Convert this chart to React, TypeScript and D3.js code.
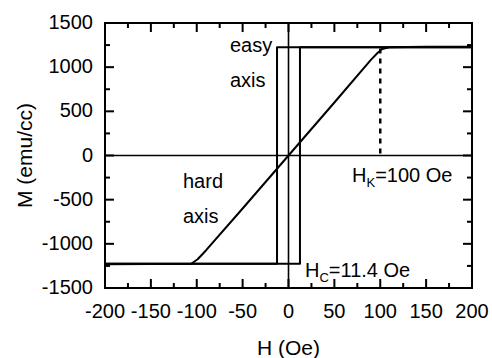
import React from "react";
import * as d3 from "d3";

// hard axis branch (H in Oe, M in emu/cc)
const hardH = [-200, -150, -110, -106, -99, -90, -50, 0, 50, 90, 97, 102, 110, 150, 200];
const hardM = [-1230, -1228, -1227, -1225, -1175, -1075, -600, 0, 600, 1085, 1160, 1205, 1226, 1230, 1232];

// easy axis loop, two branches
const easyDescH = [200, -12.5, -12.5, -200];
const easyDescM = [1225, 1225, -1225, -1225];
const easyAscH = [-200, 12.5, 12.5, 200];
const easyAscM = [-1225, -1225, 1225, 1225];

const xMajor = [-200, -150, -100, -50, 0, 50, 100, 150, 200];
const xMinor = [-175, -125, -75, -25, 25, 75, 125, 175];
const yMajor = [-1500, -1000, -500, 0, 500, 1000, 1500];
const yMinor = [-1250, -750, -250, 250, 750, 1250];

const hk = 100;
const hkM = 1210;

const font = "'Liberation Sans', Arial, sans-serif";

const App: React.FC = (): JSX.Element => {
  const width = 492, height = 358;
  const left = 105, right = 472, top = 23, bottom = 288;

  const x = d3.scaleLinear().domain([-200, 200]).range([left, right]);
  const y = d3.scaleLinear().domain([-1500, 1500]).range([bottom, top]);

  const line = d3.line<[number, number]>()
    .x(d => x(d[0]))
    .y(d => y(d[1]));

  const series = [
    d3.zip(hardH, hardM),
    d3.zip(easyDescH, easyDescM),
    d3.zip(easyAscH, easyAscM),
  ] as [number, number][][];

  const note = (px: number, py: number, txt: string, sub?: string, rest?: string) => (
    <text x={px} y={py} style={{ fontFamily: font, fontSize: 20 }}>
      <tspan>{txt}</tspan>
      {sub && <tspan dy={5} style={{ fontSize: 13 }}>{sub}</tspan>}
      {sub && <tspan dy={-5}>{rest}</tspan>}
    </text>
  );

  // tick marks as small filled rects
  const xt = (vals: number[], len: number, p: string) => vals.map(v => (
    <g key={p + v}>
      <rect x={x(v) - 1} y={bottom - len} width={2} height={len} fill="#000" />
      <rect x={x(v) - 1} y={top} width={2} height={len} fill="#000" />
    </g>
  ));
  const yt = (vals: number[], len: number, p: string) => vals.map(v => (
    <g key={p + v}>
      <rect x={left} y={y(v) - 1} width={len} height={2} fill="#000" />
      <rect x={right - len} y={y(v) - 1} width={len} height={2} fill="#000" />
    </g>
  ));

  return (
    <svg width={width} height={height}
         style={{ position: "absolute", left: 0, top: 0, background: "#fff" }}>
      {/* zero lines */}
      <line x1={left} x2={right} y1={y(0)} y2={y(0)} stroke="#000" strokeWidth={1.6} />
      <line x1={x(0)} x2={x(0)} y1={top} y2={bottom} stroke="#000" strokeWidth={1.6} />

      {series.map((s, i) => (
        <path key={i} d={line(s) || ""} fill="none" stroke="#000"
              strokeWidth={2} strokeLinejoin="round" />
      ))}

      {/* H_K marker */}
      <line x1={x(hk)} x2={x(hk)} y1={y(hkM)} y2={y(0)} stroke="#000"
            strokeWidth={2.5} strokeDasharray="5,5" />

      <rect x={left} y={top} width={right - left} height={bottom - top}
            fill="none" stroke="#000" strokeWidth={2} />

      {xt(xMajor, 9, "xM")}
      {xt(xMinor, 5, "xm")}
      {yt(yMajor, 9, "yM")}
      {yt(yMinor, 5, "ym")}

      {xMajor.map(v => (
        <text key={"x" + v} x={x(v)} y={bottom + 30} textAnchor="middle"
              style={{ fontFamily: font, fontSize: 20 }}>{v}</text>
      ))}
      {yMajor.map(v => (
        <text key={"y" + v} x={left - 12} y={y(v)} dy="0.3em" textAnchor="end"
              style={{ fontFamily: font, fontSize: 20 }}>{v}</text>
      ))}

      <text x={x(0)} y={bottom + 67} textAnchor="middle"
            style={{ fontFamily: font, fontSize: 21 }}>H (Oe)</text>
      <text transform={`translate(32,${y(0)}) rotate(-90)`} textAnchor="middle"
            style={{ fontFamily: font, fontSize: 21 }}>M (emu/cc)</text>

      {note(230, 52, "easy")}
      {note(230, 87, "axis")}
      {note(183, 188, "hard")}
      {note(183, 223, "axis")}
      {note(352, 182, "H", "K", "=100 Oe")}
      {note(305, 277, "H", "C", "=11.4 Oe")}
    </svg>
  );
};

export default App;
